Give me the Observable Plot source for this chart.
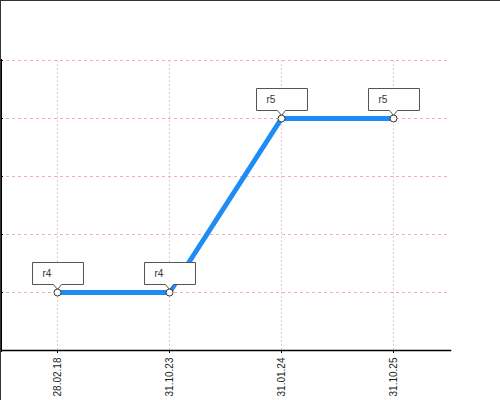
<!DOCTYPE html>
<html>
<head>
<meta charset="utf-8">
<script src="https://cdn.jsdelivr.net/npm/d3@7"></script>
<script src="https://cdn.jsdelivr.net/npm/@observablehq/plot@0.6"></script>
<style>
  html, body { margin: 0; padding: 0; background: #fff; }
  #wrap { position: relative; width: 500px; height: 400px; }
  #border { position: absolute; left: 0; top: 0; width: 500px; height: 400px; box-sizing: border-box;
            border-top: 1px solid #333; border-left: 1px solid #333; pointer-events: none; }
</style>
</head>
<body>
<div id="wrap"><div id="border"></div></div>
<script>
const dates = ["28.02.18", "31.10.23", "31.01.24", "31.10.25"];
const values = [1, 1, 4, 4];
const labels = ["r4", "r4", "r5", "r5"];
const yTicks = [1, 2, 3, 4, 5];

const data = dates.map((d, i) => ({date: d, value: values[i], label: labels[i]}));

// callout shape (box above the point with a small pointer)
const callout = {
  draw(context) {
    context.moveTo(-25, -30);
    context.lineTo(26, -30);
    context.lineTo(26, -8);
    context.lineTo(4, -8);
    context.lineTo(0, -3);
    context.lineTo(-4, -8);
    context.lineTo(-25, -8);
    context.closePath();
  }
};

const chart = Plot.plot({
  width: 500,
  height: 400,
  marginTop: 60,
  marginBottom: 50,
  marginLeft: 0,
  marginRight: 50,
  style: {fontFamily: "Liberation Sans, Arial, sans-serif", fontSize: "10px", background: "white", overflow: "visible"},
  x: {type: "point", domain: dates, padding: 0.5, label: null},
  y: {domain: [0, 5], label: null},
  marks: [
    Plot.gridY(yTicks, {stroke: "#f0a8a8", strokeOpacity: 0.9, strokeDasharray: "3,3"}),
    Plot.gridX(dates, {stroke: "#f2c0c0", strokeOpacity: 0.9, strokeDasharray: "2,2"}),
    Plot.axisY(yTicks, {tickSize: 3, tickFormat: () => "", label: null, stroke: "black", dx: 3}),
    Plot.axisX({tickRotate: -90, tickSize: 3, tickPadding: 4, fontSize: 10, fill: "#222", label: null, stroke: "black"}),
    Plot.frame({anchor: "left", stroke: "black", strokeWidth: 3}),
    Plot.frame({anchor: "bottom", stroke: "black", strokeWidth: 1.5}),
    Plot.line(data, {x: "date", y: "value", stroke: "#1e8cf5", strokeWidth: 5}),
    Plot.dot(data, {x: "date", y: "value", symbol: callout, r: 4, fill: "white", stroke: "#555", strokeWidth: 1}),
    Plot.text(data, {x: "date", y: "value", text: "label", dx: -15, dy: -19, textAnchor: "start", fill: "#333", fontSize: 10}),
    Plot.dot(data, {x: "date", y: "value", r: 3.5, fill: "white", stroke: "#333", strokeWidth: 1})
  ]
});
document.getElementById("wrap").prepend(chart);
</script>
</body>
</html>
